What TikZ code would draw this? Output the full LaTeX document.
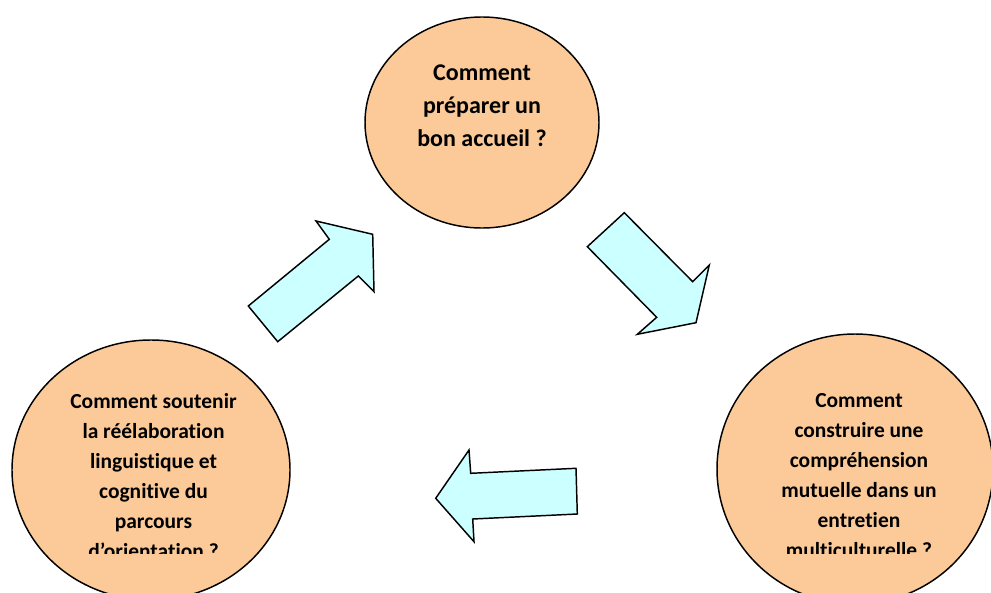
\documentclass[tikz,border=0pt]{standalone}
\usepackage{fontspec}
\setmainfont{Carlito}[Ligatures=NoCommon]
\usetikzlibrary{shapes.geometric}
\definecolor{tanfill}{RGB}{251,202,152}
\definecolor{cyanfill}{RGB}{204,255,255}
\tikzset{
  bubble/.style={ellipse, draw=black, line width=1.1pt, fill=tanfill, inner sep=0pt},
  blockarrow/.style={draw=black, line width=1.1pt, fill=cyanfill, line join=miter},
  toptext/.style={align=center, inner sep=0pt, anchor=north, font=\bfseries\fontsize{18}{25.1}\selectfont},
  sidetext/.style={align=center, inner sep=0pt, anchor=north, font=\bfseries\fontsize{16.1}{22.5}\selectfont},
}
\begin{document}
\begin{tikzpicture}[x=0.75pt,y=-0.75pt]
\useasboundingbox (0,0) rectangle (991,592);
% ellipses
\node[bubble, minimum width=175.5pt, minimum height=158.25pt] (top) at (482,122.5) {};
\node[bubble, minimum width=208.5pt, minimum height=195pt] (left) at (151,470) {};
\node[bubble, minimum width=207pt, minimum height=202.5pt] (right) at (855,469) {};
% texts
\node[toptext] (toptxt) at (482,64) {Comment\\préparer un\\bon accueil ?};
\begin{scope}
\clip (0,0) rectangle (991,553.5);
\node[sidetext] (lefttxt) at (153.5,393) {Comment soutenir\\la réélaboration\\linguistique et\\cognitive du\\parcours\\d’orientation ?};
\node[sidetext] (righttxt) at (859,393.5) {Comment\\construire une\\compréhension\\mutuelle dans un\\entretien\\multiculturelle ?};
\end{scope}
% block arrows
\draw[blockarrow] (248.3,306) -- (329.3,239.3) -- (316,221) -- (372.7,234.3) -- (374,291.7) -- (358.3,276) -- (277.7,341.7) -- cycle;
\draw[blockarrow] (624.3,212.7) -- (692.7,281.7) -- (709.3,265) -- (696,322.7) -- (637.3,334.3) -- (656.7,317.3) -- (587.3,246.7) -- cycle;
\draw[blockarrow] (435.7,498.3) -- (469,450) -- (470.7,473.3) -- (576,468.3) -- (577.3,514) -- (472.7,519) -- (474,541.7) -- cycle;
\end{tikzpicture}
\end{document}
